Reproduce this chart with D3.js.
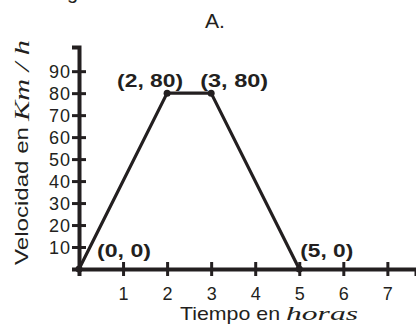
<!DOCTYPE html>
<html>
<head>
<meta charset="utf-8">
<script src="https://cdn.jsdelivr.net/npm/d3@7"></script>
<style>
  body { margin: 0; background: #fff; }
  svg { display: block; }
  text { font-family: "Liberation Sans", Arial, Helvetica, sans-serif; fill: #231f20; }
  .serif { font-family: "Liberation Serif", "Times New Roman", serif; font-style: italic; }
</style>
</head>
<body>
<div id="chart"></div>
<script>
// data
var tiempo = [0, 2, 3, 5];
var velocidad = [0, 80, 80, 0];
var puntoLabels = ["(0, 0)", "(2, 80)", "(3, 80)", "(5, 0)"];
var xTicks = [1, 2, 3, 4, 5, 6, 7];
var yTicks = [10, 20, 30, 40, 50, 60, 70, 80, 90];

var width = 416, height = 324;
var ink = "#231f20";

var svg = d3.select("#chart").append("svg")
    .attr("width", width)
    .attr("height", height);

var x = d3.scaleLinear().domain([0, 7.65]).range([79, 416]);
var y = d3.scaleLinear().domain([0, 101]).range([269, 47]);

// cut off letter from the text above
svg.append("text").attr("x", 67).attr("y", -1).attr("font-size", 20).text("g");

// title
svg.append("text")
    .attr("x", 205).attr("y", 28)
    .attr("font-size", 19.5)
    .attr("textLength", 20).attr("lengthAdjust", "spacingAndGlyphs")
    .text("A.");

// x axis, ticks cross the line
var xAxis = svg.append("g")
    .attr("transform", "translate(0," + y(0) + ")")
    .call(d3.axisBottom(x).tickValues(xTicks).tickSizeOuter(0).tickSize(7).tickFormat(d3.format("d")));
xAxis.select(".domain").attr("stroke", ink).attr("stroke-width", 4);
xAxis.selectAll(".tick line").attr("y1", -7).attr("y2", 7).attr("stroke", ink).attr("stroke-width", 3);
xAxis.selectAll(".tick text")
    .attr("y", 31).attr("dy", 0)
    .attr("font-size", 18).attr("fill", ink)
    .attr("font-family", "Liberation Sans, Arial, sans-serif");

// y axis
var yAxis = svg.append("g")
    .attr("transform", "translate(" + x(0) + ",0)")
    .call(d3.axisLeft(y).tickValues(yTicks).tickSizeOuter(0).tickSize(7));
yAxis.select(".domain").attr("stroke", ink).attr("stroke-width", 4);
yAxis.selectAll(".tick line").attr("x1", -7).attr("x2", 7).attr("stroke", ink).attr("stroke-width", 3);
yAxis.selectAll(".tick text")
    .attr("x", -8).attr("dy", "0.36em")
    .attr("font-size", 18).attr("fill", ink)
    .attr("letter-spacing", 1)
    .attr("font-family", "Liberation Sans, Arial, sans-serif");

// axis titles
svg.append("text")
    .attr("x", 180).attr("y", 320)
    .attr("font-size", 18.5)
    .attr("textLength", 100).attr("lengthAdjust", "spacingAndGlyphs")
    .text("Tiempo en");
svg.append("text")
    .attr("class", "serif")
    .attr("x", 286).attr("y", 320)
    .attr("font-size", 19)
    .attr("textLength", 72).attr("lengthAdjust", "spacingAndGlyphs")
    .text("horas");

svg.append("text")
    .attr("transform", "translate(28,265) rotate(-90)")
    .attr("font-size", 18.5)
    .attr("textLength", 138).attr("lengthAdjust", "spacingAndGlyphs")
    .text("Velocidad en");
svg.append("text")
    .attr("class", "serif")
    .attr("transform", "translate(29,121) rotate(-90)")
    .attr("font-size", 20)
    .attr("textLength", 81).attr("lengthAdjust", "spacingAndGlyphs")
    .text("Km / h");

// the trapezoid
var pts = tiempo.map(function (t, i) { return [t, velocidad[i]]; });

var line = d3.line()
    .x(function (d) { return x(d[0]); })
    .y(function (d) { return y(d[1]); });

svg.append("path")
    .datum(pts)
    .attr("d", line)
    .attr("fill", "none")
    .attr("stroke", ink)
    .attr("stroke-width", 3.2)
    .attr("stroke-linejoin", "round");

svg.selectAll("circle.pt")
    .data(pts)
    .enter().append("circle")
    .attr("class", "pt")
    .attr("cx", function (d) { return x(d[0]); })
    .attr("cy", function (d) { return y(d[1]); })
    .attr("r", 3.5)
    .attr("fill", ink);

// point labels: offset from each point, and widths
var labelDx = [18, -50, -11, 1];
var labelDy = [-12, -6, -6, -12];
var labelW = [54, 66, 68, 53];

svg.selectAll("text.pl")
    .data(pts)
    .enter().append("text")
    .attr("class", "pl")
    .attr("x", function (d, i) { return x(d[0]) + labelDx[i]; })
    .attr("y", function (d, i) { return y(d[1]) + labelDy[i]; })
    .attr("font-size", 19)
    .attr("font-weight", "bold")
    .attr("textLength", function (d, i) { return labelW[i]; })
    .attr("lengthAdjust", "spacingAndGlyphs")
    .text(function (d, i) { return puntoLabels[i]; });
</script>
</body>
</html>
